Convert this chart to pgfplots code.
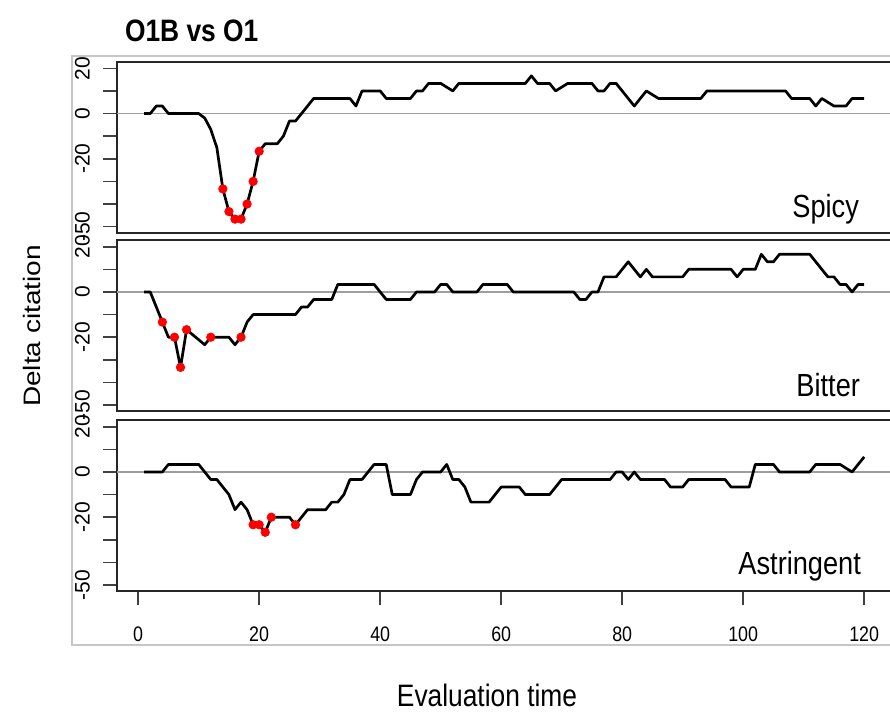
\documentclass[border=0pt]{standalone}
\usepackage{fontspec}
\setmainfont{Liberation Sans}
\newfontfamily\narrowfont{Liberation Sans}[FakeStretch=0.85]
\usepackage{graphicx}
\usepackage{pgfplots}
\usepackage{pgfplotstable}
\pgfplotsset{compat=1.18}

% delta citation (%) per evaluation time: s = Spicy, b = Bitter, a = Astringent
\pgfplotstableread{
t s b a
1 0 0 0
2 0 0 0
3 3.33 -6.67 0
4 3.33 -13.33 0
5 0 -20 3.33
6 0 -20 3.33
7 0 -33.33 3.33
8 0 -16.67 3.33
9 0 -18.89 3.33
10 0 -21.11 3.33
11 -2 -23.33 0
12 -7 -20 -3.33
13 -15 -20 -3.33
14 -33.33 -20 -6.67
15 -43.33 -20 -10
16 -46.67 -23.33 -16.67
17 -46.67 -20 -13.33
18 -40 -13.33 -16.67
19 -30 -10 -23.33
20 -16.67 -10 -23.33
21 -13.33 -10 -26.67
22 -13.33 -10 -20
23 -13.33 -10 -20
24 -10 -10 -20
25 -3.33 -10 -20
26 -3.33 -10 -23.33
27 0 -6.67 -20
28 3.33 -6.67 -16.67
29 6.67 -3.33 -16.67
30 6.67 -3.33 -16.67
31 6.67 -3.33 -16.67
32 6.67 -3.33 -13.33
33 6.67 3.33 -13.33
34 6.67 3.33 -10
35 6.67 3.33 -3.33
36 3.33 3.33 -3.33
37 10 3.33 -3.33
38 10 3.33 0
39 10 3.33 3.33
40 10 0 3.33
41 6.67 -3.33 3.33
42 6.67 -3.33 -10
43 6.67 -3.33 -10
44 6.67 -3.33 -10
45 6.67 -3.33 -10
46 10 0 -3.33
47 10 0 0
48 13.33 0 0
49 13.33 0 0
50 13.33 3.33 0
51 11.67 3.33 3.33
52 10 0 -3.33
53 13.33 0 -3.33
54 13.33 0 -6.67
55 13.33 0 -13.33
56 13.33 0 -13.33
57 13.33 3.33 -13.33
58 13.33 3.33 -13.33
59 13.33 3.33 -10
60 13.33 3.33 -6.67
61 13.33 3.33 -6.67
62 13.33 0 -6.67
63 13.33 0 -6.67
64 13.33 0 -10
65 16.67 0 -10
66 13.33 0 -10
67 13.33 0 -10
68 13.33 0 -10
69 10 0 -6.67
70 11.67 0 -3.33
71 13.33 0 -3.33
72 13.33 0 -3.33
73 13.33 -3.33 -3.33
74 13.33 -3.33 -3.33
75 13.33 0 -3.33
76 10 0 -3.33
77 10 6.67 -3.33
78 13.33 6.67 -3.33
79 13.33 6.67 0
80 10 10 0
81 6.67 13.33 -3.33
82 3.33 10 0
83 6.67 6.67 -3.33
84 10 10 -3.33
85 8.33 6.67 -3.33
86 6.67 6.67 -3.33
87 6.67 6.67 -3.33
88 6.67 6.67 -6.67
89 6.67 6.67 -6.67
90 6.67 6.67 -6.67
91 6.67 10 -3.33
92 6.67 10 -3.33
93 6.67 10 -3.33
94 10 10 -3.33
95 10 10 -3.33
96 10 10 -3.33
97 10 10 -3.33
98 10 10 -6.67
99 10 6.67 -6.67
100 10 10 -6.67
101 10 10 -6.67
102 10 10 3.33
103 10 16.67 3.33
104 10 13.33 3.33
105 10 13.33 3.33
106 10 16.67 0
107 10 16.67 0
108 6.67 16.67 0
109 6.67 16.67 0
110 6.67 16.67 0
111 6.67 16.67 0
112 3.33 13.33 3.33
113 6.67 10 3.33
114 5 6.67 3.33
115 3.33 6.67 3.33
116 3.33 3.33 3.33
117 3.33 3.33 1.67
118 6.67 0 0
119 6.67 3.33 3.33
120 6.67 3.33 6.67
}\deltatab

% significant differences
\pgfplotstableread{
t v
14 -33.33
15 -43.33
16 -46.67
17 -46.67
18 -40
19 -30
20 -16.67
}\spicysig
\pgfplotstableread{
t v
4 -13.33
6 -20
7 -33.33
8 -16.67
12 -20
17 -20
}\bittersig
\pgfplotstableread{
t v
19 -23.33
20 -23.33
21 -26.67
22 -20
26 -23.33
}\astrsig

\pgfplotsset{
  panel/.style={
    scale only axis, width=387.2pt, height=85.5pt,
    xmin=-3.5, xmax=124.5, ymin=-52.8, ymax=22.8,
    axis line style={black!85, line width=1.1pt},
    tick style={black!75, line width=0.8pt},
    tick align=outside,
    major tick length=7pt,
    xtick pos=left, ytick pos=left,
    ytick={-50,-40,-30,-20,-10,0,10,20},
    yticklabels={-50,,,-20,,0,,20},
    yticklabel style={rotate=90, anchor=south, font=\fontsize{10.5}{12}\selectfont},
    yticklabel shift=3pt,
    xticklabel style={font=\narrowfont\fontsize{10.5}{12}\selectfont},
    xticklabel shift=7pt,
    /pgf/number format/assume math mode=true,
  },
  zeroline/.style={black!38, line width=0.6pt},
  delta/.style={black, line width=1.35pt, line join=round, mark=none},
  sig/.style={only marks, mark=*, mark size=2.1pt, red, mark options={draw=none, fill=red}},
}

\begin{document}
\begin{tikzpicture}
\path[use as bounding box] (0,0) rectangle (445pt,356pt);

\draw[gray!45, line width=0.6pt] (447.5pt,328pt) -- (36pt,328pt) -- (36pt,33.5pt) -- (447.5pt,33.5pt);

\begin{axis}[panel, at={(58.5pt,239.5pt)}, anchor=south west, xtick=\empty]
  \addplot[zeroline] coordinates {(-3.5,0) (124.5,0)};
  \addplot[delta] table[x=t, y=s] {\deltatab};
  \addplot[sig] table[x=t, y=v] {\spicysig};
\end{axis}

\begin{axis}[panel, at={(58.5pt,150.3pt)}, anchor=south west, xtick=\empty]
  \addplot[zeroline] coordinates {(-3.5,0) (124.5,0)};
  \addplot[delta] table[x=t, y=b] {\deltatab};
  \addplot[sig] table[x=t, y=v] {\bittersig};
\end{axis}

\begin{axis}[panel, at={(58.5pt,60.3pt)}, anchor=south west, xtick={0,20,...,120}]
  \addplot[zeroline] coordinates {(-3.5,0) (124.5,0)};
  \addplot[delta] table[x=t, y=a] {\deltatab};
  \addplot[sig] table[x=t, y=v] {\astrsig};
\end{axis}

\node[anchor=base west, font=\narrowfont\bfseries\fontsize{15.5}{18}\selectfont] at (59pt,335pt) {O1B vs O1};
\node[anchor=base east, font=\narrowfont\fontsize{16}{18}\selectfont] at (433pt,247pt) {Spicy};
\node[anchor=base east, font=\narrowfont\fontsize{16}{18}\selectfont] at (433.5pt,157.5pt) {Bitter};
\node[anchor=base east, font=\narrowfont\fontsize{16}{18}\selectfont] at (434pt,68.5pt) {Astringent};
\node[anchor=base, font=\narrowfont\fontsize{15.5}{18}\selectfont] at (243.5pt,2.5pt) {Evaluation time};
\node[rotate=90, font=\fontsize{14}{16}\selectfont] at (16pt,193pt) {\scalebox{1}[0.85]{Delta citation}};
\end{tikzpicture}
\end{document}
